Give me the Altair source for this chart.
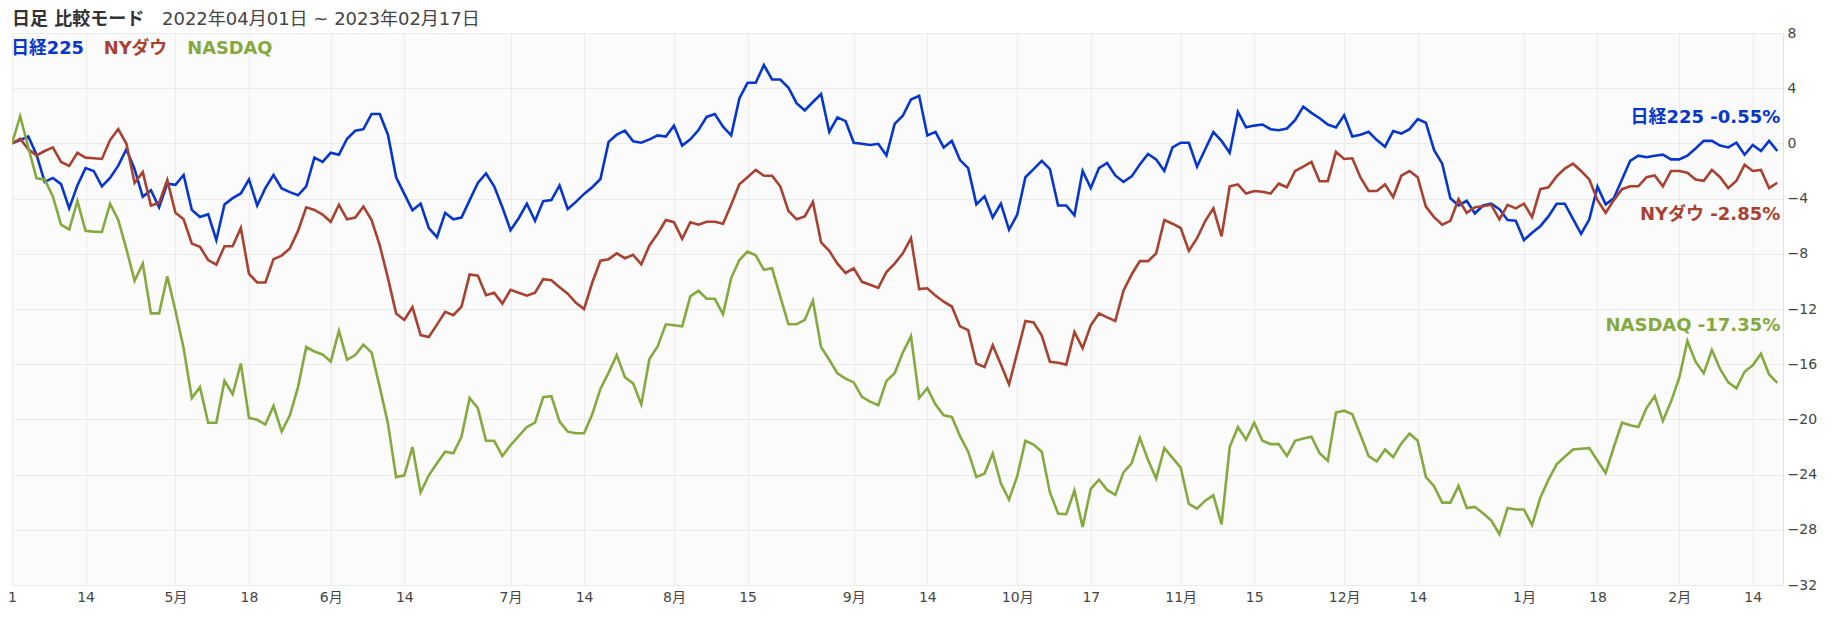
import altair as alt
import pandas as pd

# ---------------- data (percent change vs 2022-04-01, one value per trading day) -------------
names = ["日経225", "NYダウ", "NASDAQ"]
colors = ["#0636cc", "#a8412f", "#84a93e"]

nikkei = [
    0, 0.24, 0.50, -0.82, -2.79, -2.50, -2.95, -4.71, -3.05, -1.79,
    -2.00, -3.11, -2.50, -1.61, -0.42, -1.87, -3.87, -3.39, -4.63, -2.92,
    -3.00, -2.29, -4.82, -5.34, -5.13, -7.00, -4.42, -3.97, -3.63, -2.61,
    -4.50, -3.24, -2.29, -3.26, -3.53, -3.76, -3.11, -1.03, -1.34, -0.68,
    -0.82, 0.34, 0.92, 1.03, 2.13, 2.13, 0.63, -2.45, -3.66, -4.84,
    -4.37, -6.13, -6.79, -5.03, -5.50, -5.37, -4.11, -2.87, -2.18, -3.11,
    -4.63, -6.29, -5.42, -4.37, -5.61, -4.18, -4.11, -3.05, -4.76, -4.24,
    -3.66, -3.18, -2.58, 0.11, 0.63, 0.92, 0.16, 0.05, 0.29, 0.58,
    0.50, 1.29, -0.16, 0.29, 0.97, 1.92, 2.13, 1.21, 0.58, 3.26,
    4.39, 4.39, 5.68, 4.63, 4.63, 4.05, 2.92, 2.39, 3.00, 3.58,
    0.84, 1.89, 1.61, 0.05, -0.03, -0.11, -0.03, -0.87, 1.42, 2.00,
    3.18, 3.45, 0.58, 0.84, -0.29, 0.18, -1.21, -1.79, -4.42, -3.84,
    -5.37, -4.37, -6.26, -5.16, -2.45, -1.87, -1.26, -1.87, -4.50, -4.50,
    -5.21, -2.00, -3.24, -1.79, -1.42, -2.32, -2.79, -2.39, -1.53, -0.76,
    -1.16, -2.00, -0.29, 0.05, 0.05, -1.68, -0.42, 0.82, 0.18, -0.68,
    2.29, 1.16, 1.29, 1.37, 1.03, 0.95, 1.08, 1.68, 2.66, 2.21,
    1.82, 1.37, 1.16, 2.03, 0.50, 0.63, 0.84, 0.24, -0.24, 0.89,
    0.71, 1.03, 1.76, 1.50, -0.47, -1.47, -3.97, -4.50, -4.16, -5.08,
    -4.50, -4.37, -4.76, -5.55, -5.61, -7.00, -6.47, -6.00, -5.29, -4.37,
    -4.37, -5.47, -6.55, -5.50, -3.13, -4.42, -3.97, -2.61, -1.26, -0.89,
    -1.00, -0.89, -0.82, -1.16, -1.16, -0.89, -0.37, 0.18, 0.18, -0.16,
    -0.29, 0.05, -0.82, -0.11, -0.55, 0.18, -0.55,
]

dow = [
    0, 0.34, -0.42, -0.87, -0.55, -0.29, -1.34, -1.63, -0.68, -1.03,
    -1.08, -1.13, 0.24, 1.03, -0.03, -2.87, -2.08, -4.50, -4.32, -2.66,
    -5.03, -5.50, -7.26, -7.50, -8.45, -8.79, -7.45, -7.45, -6.13, -9.45,
    -10.08, -10.08, -8.39, -8.13, -7.61, -6.34, -4.63, -4.82, -5.16, -5.68,
    -4.45, -5.50, -5.37, -4.58, -5.55, -7.39, -9.76, -12.32, -12.79, -11.87,
    -13.89, -14.03, -13.13, -12.21, -12.45, -11.82, -9.50, -9.58, -11.00, -10.82,
    -11.61, -10.61, -10.82, -11.03, -10.82, -9.84, -9.92, -10.42, -10.89, -11.55,
    -12.00, -10.08, -8.50, -8.39, -7.97, -8.32, -8.08, -8.76, -7.39, -6.55,
    -5.55, -5.71, -6.92, -5.71, -5.89, -5.68, -5.68, -5.82, -4.45, -2.97,
    -2.45, -1.92, -2.34, -2.34, -3.11, -4.89, -5.50, -5.29, -4.24, -7.18,
    -7.79, -8.71, -9.39, -9.05, -10.03, -10.24, -10.47, -9.32, -8.71, -7.97,
    -6.87, -10.55, -10.50, -11.03, -11.47, -11.82, -13.26, -13.53, -15.95, -16.21,
    -14.63, -16.03, -17.47, -15.16, -12.87, -12.97, -13.92, -15.82, -15.89, -16.03,
    -13.66, -14.84, -13.18, -12.32, -12.61, -12.87, -10.68, -9.50, -8.53, -8.53,
    -7.97, -5.55, -5.82, -6.13, -7.79, -6.87, -5.63, -4.71, -6.74, -3.11,
    -2.97, -3.63, -3.45, -3.50, -3.63, -2.92, -3.18, -2.00, -1.68, -1.34,
    -2.74, -2.74, -0.61, -1.13, -1.08, -2.47, -3.45, -3.45, -2.97, -3.89,
    -2.34, -2.00, -2.45, -4.58, -5.34, -5.89, -5.61, -4.05, -5.03, -4.63,
    -4.55, -4.45, -5.50, -4.45, -4.71, -4.37, -5.34, -3.32, -3.18, -2.39,
    -1.82, -1.47, -2.00, -2.61, -4.11, -5.03, -4.11, -3.32, -3.11, -3.11,
    -2.45, -2.32, -3.11, -2.00, -2.00, -2.13, -2.61, -2.71, -1.92, -2.45,
    -3.24, -2.71, -1.55, -2.00, -1.92, -3.24, -2.85,
]

nasdaq = [
    0, 1.97, -0.30, -2.53, -2.61, -3.84, -5.89, -6.24, -4.18, -6.34,
    -6.39, -6.42, -4.37, -5.55, -7.66, -9.95, -8.71, -12.32, -12.32, -9.63,
    -12.13, -14.84, -18.45, -17.66, -20.24, -20.24, -17.21, -18.18, -15.95, -19.89,
    -20.03, -20.37, -19.03, -20.89, -19.71, -17.66, -14.76, -15.08, -15.29, -15.82,
    -13.58, -15.68, -15.34, -14.58, -15.16, -17.66, -20.29, -24.18, -24.05, -22.00,
    -25.29, -24.05, -23.18, -22.34, -22.45, -21.26, -18.45, -19.18, -21.55, -21.55,
    -22.66, -21.87, -21.21, -20.55, -20.24, -18.39, -18.32, -20.16, -20.89, -21.00,
    -21.00, -19.63, -17.79, -16.61, -15.34, -16.95, -17.39, -18.92, -15.61, -14.71,
    -13.11, -13.18, -13.26, -11.08, -10.68, -11.26, -11.26, -12.39, -9.76, -8.45,
    -7.84, -8.11, -9.16, -9.05, -11.08, -13.11, -13.11, -12.79, -11.39, -14.76,
    -15.68, -16.66, -17.05, -17.32, -18.37, -18.71, -18.97, -17.21, -16.66, -15.16,
    -13.97, -18.45, -17.74, -18.92, -19.71, -19.82, -21.21, -22.34, -24.18, -23.92,
    -22.47, -24.63, -25.82, -24.11, -21.55, -21.82, -22.34, -25.29, -26.82, -26.87,
    -25.16, -27.79, -25.03, -24.37, -25.11, -25.47, -23.84, -23.18, -21.34, -22.92,
    -24.29, -22.08, -22.79, -23.50, -26.13, -26.47, -25.89, -25.50, -27.61, -22.00,
    -20.55, -21.47, -20.24, -21.55, -21.79, -21.79, -22.66, -21.55, -21.39, -21.26,
    -22.45, -23.00, -19.50, -19.37, -19.63, -21.13, -22.66, -23.05, -22.18, -22.74,
    -21.74, -21.03, -21.55, -24.16, -24.84, -26.03, -26.03, -24.82, -26.42, -26.34,
    -26.80, -27.32, -28.32, -26.42, -26.53, -26.53, -27.66, -25.68, -24.37, -23.26,
    -22.71, -22.18, -22.13, -22.08, -23.00, -23.89, -22.00, -20.24, -20.42, -20.55,
    -19.18, -18.32, -20.11, -18.71, -17.00, -14.32, -15.82, -16.66, -14.97, -16.34,
    -17.32, -17.74, -16.55, -16.08, -15.24, -16.74, -17.35,
]

tick_idx = [0, 9, 20, 29, 39, 48, 61, 70, 81, 90, 103, 112, 123, 132, 143,
            152, 163, 172, 185, 194, 204, 213]
tick_lab = ["1", "14", "5月", "18", "6月", "14", "7月", "14", "8月", "15", "9月",
            "14", "10月", "17", "11月", "15", "12月", "14", "1月", "18", "2月", "14"]
y_ticks = [8, 4, 0, -4, -8, -12, -16, -20, -24, -28, -32]

title_main = "日足 比較モード"
title_date = "2022年04月01日 ~ 2023年02月17日"

# ---------------- build -------------
series = [nikkei, dow, nasdaq]
rows = []
for name, vals in zip(names, series):
    for i, v in enumerate(vals):
        rows.append({"i": i, "v": v, "s": name})
df = pd.DataFrame(rows)

FONT = "'DejaVu Sans', 'Noto Sans CJK JP', sans-serif"
n_last = len(nikkei) - 1

xs = alt.Scale(domain=[0, n_last + 0.7], nice=False, zero=False)
ys = alt.Scale(domain=[-32, 8], nice=False, zero=False)
cs = alt.Scale(domain=names, range=colors)

lab_expr = "[" + ",".join("'%s'" % t for t in tick_lab) + "][indexof([" + \
    ",".join(str(t) for t in tick_idx) + "], datum.value)]"
legend_color_expr = " : ".join(
    "datum.value == '%s' ? '%s'" % (n, c) for n, c in zip(names[:-1], colors[:-1])
) + " : '%s'" % colors[-1]

x_axis = alt.Axis(values=tick_idx, labelExpr=lab_expr, grid=True, gridColor="#ebebeb",
                  ticks=False, domain=False, labelFontSize=14, labelColor="#444",
                  labelFont=FONT, labelFlush=False, labelOverlap=False,
                  labelPadding=5, title=None)
y_axis = alt.Axis(orient="right", values=y_ticks, grid=True, gridColor="#ebebeb",
                  ticks=False, domain=False, labelFontSize=14, labelColor="#444",
                  labelFont=FONT, labelPadding=4, title=None, labelOverlap=False)

lines = alt.Chart(df).mark_line(strokeWidth=2.6, clip=True).encode(
    x=alt.X("i:Q", scale=xs, axis=x_axis),
    y=alt.Y("v:Q", scale=ys, axis=y_axis),
    color=alt.Color("s:N", scale=cs, legend=alt.Legend(
        orient="none", legendX=-18.5, legendY=7, direction="horizontal", title=None,
        symbolSize=1, symbolOpacity=0, symbolStrokeWidth=0, labelOffset=0,
        labelFontSize=17.8, labelFontWeight="bold", labelFont=FONT,
        columnPadding=1.5, padding=0,
        labelColor=alt.ExprRef(legend_color_expr),
    )),
    order=alt.Order("i:Q"),
)

t1 = alt.Chart(pd.DataFrame({"t": [title_main]})).mark_text(
    align="left", baseline="middle", fontSize=18, fontWeight="bold", font=FONT, color="#333"
).encode(x=alt.value(0), y=alt.value(-13), text="t:N")
t2 = alt.Chart(pd.DataFrame({"t": [title_date]})).mark_text(
    align="left", baseline="middle", fontSize=18, font=FONT, color="#444"
).encode(x=alt.value(150), y=alt.value(-13), text="t:N")

end_dy = [-33, 32, -57]
end_layers = []
for name, vals, col, dy in zip(names, series, colors, end_dy):
    d = pd.DataFrame({"i": [n_last], "v": [vals[-1]],
                      "t": ["%s %.2f%%" % (name, vals[-1])]})
    end_layers.append(alt.Chart(d).mark_text(
        align="right", baseline="middle", dx=3, dy=dy, fontSize=18,
        fontWeight="bold", font=FONT, color=col
    ).encode(x=alt.X("i:Q", scale=xs), y=alt.Y("v:Q", scale=ys), text="t:N"))

chart = alt.layer(lines, *end_layers, t1, t2).properties(
    width=1771, height=552,
    autosize=alt.AutoSizeParams(type="none"),
    padding={"left": 4, "top": 25, "right": 38, "bottom": 25},
    background="white",
).configure_view(fill="#fbfbfb", stroke="#e2e2e2", strokeWidth=1)

chart.save("out.html", embed_options={"renderer": "svg", "actions": False})
